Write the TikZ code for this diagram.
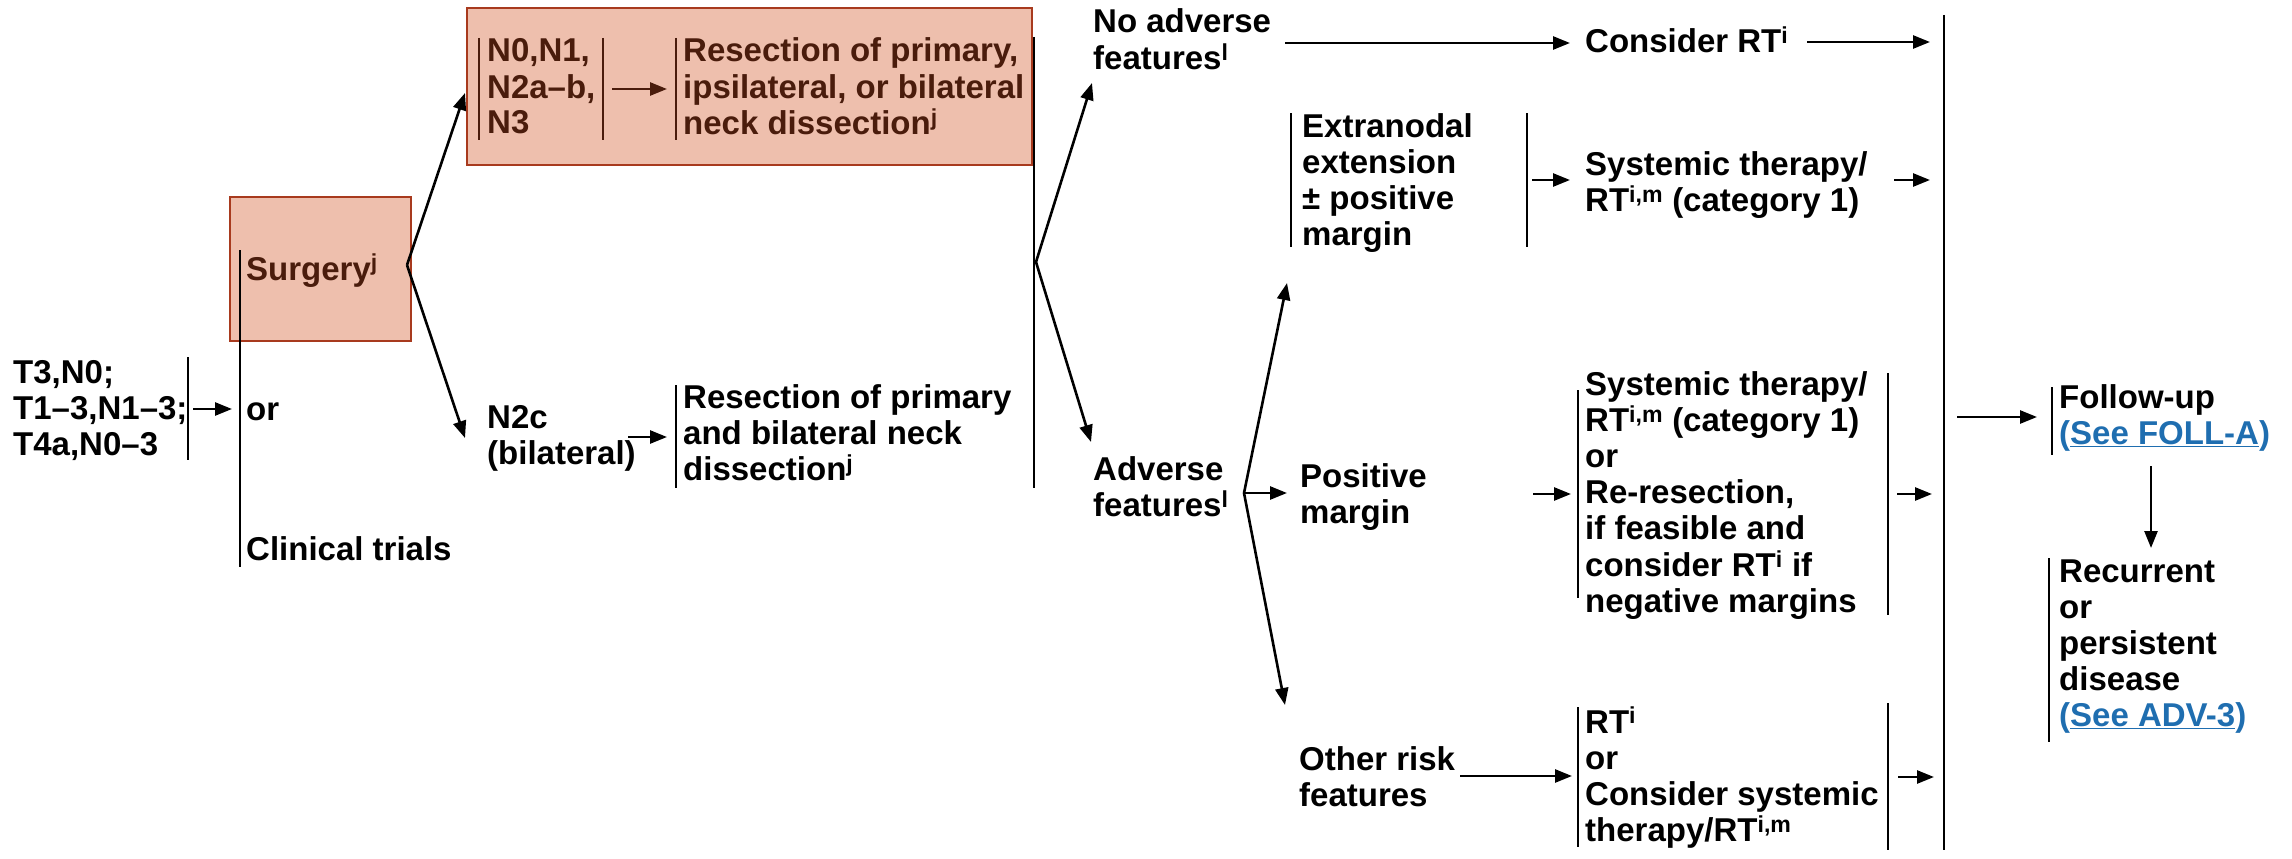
\documentclass[tikz,border=0pt]{standalone}
\usepackage{fontspec}
\setmainfont{Liberation Sans}
\usetikzlibrary{arrows.meta}
\definecolor{boxfill}{HTML}{EEBFAD}
\definecolor{boxline}{HTML}{A83A1E}
\definecolor{boxtext}{HTML}{4A1C0C}
\definecolor{linkblue}{HTML}{1F6EB0}
\newcommand\ml[1]{\begin{tabular}[t]{@{}l@{}}#1\end{tabular}}
\newcommand\spr[1]{\textsuperscript{#1}}
\newcommand\lnk[1]{\textcolor{linkblue}{(\underline{#1})}}
\begin{document}
\begin{tikzpicture}[x=1pt,y=-1pt,
  txt/.style={anchor=base west,inner sep=0pt,font=\bfseries\fontsize{33}{36}\selectfont},
  bar/.style={line width=2.8pt},
  arr/.style={line width=2.6pt,-{Triangle[length=17pt,width=13pt]}},
  hbox/.style={draw=boxline,fill=boxfill,line width=2.2pt,anchor=north west,inner sep=0pt}]
\useasboundingbox (0,0) rectangle (2292,859);

% ---------- highlighted boxes
\node[hbox,minimum width=181pt,minimum height=144pt] (surgbox) at (229,196) {};
\node[hbox,minimum width=565pt,minimum height=157pt] (topbox) at (466,7) {};

% ---------- named points (bar ends and connector ends)
\coordinate (b0t) at (188,357);  \coordinate (b0b) at (188,460);
\coordinate (b1t) at (240,250);  \coordinate (b1b) at (240,567);
\coordinate (a0s) at (193,409);  \coordinate (a0e) at (232,409);
\coordinate (sj)  at (407,265);
\coordinate (sup) at (465,93);   \coordinate (sdn) at (465,438);
\coordinate (tb1t) at (479,38);  \coordinate (tb1b) at (479,140);
\coordinate (tb2t) at (603,38);  \coordinate (tb2b) at (603,140);
\coordinate (tb3t) at (676,38);  \coordinate (tb3b) at (676,140);
\coordinate (ta0) at (612,89);   \coordinate (ta1) at (667,89);
\coordinate (na0) at (628,437);  \coordinate (na1) at (667,437);
\coordinate (nbt) at (676,385);  \coordinate (nbb) at (676,488);
\coordinate (b2t) at (1034,37);  \coordinate (b2b) at (1034,488);
\coordinate (j2)  at (1036,262);
\coordinate (noin) at (1092,83); \coordinate (advin) at (1091,442);
\coordinate (noout) at (1285,43); \coordinate (crin) at (1570,43);
\coordinate (crout) at (1807,42); \coordinate (rb1) at (1930,42);
\coordinate (rbt) at (1944,15);  \coordinate (rbb) at (1944,850);
\coordinate (eb1t) at (1291,113); \coordinate (eb1b) at (1291,247);
\coordinate (eb2t) at (1527,113); \coordinate (eb2b) at (1527,247);
\coordinate (ea0) at (1532,180); \coordinate (ea1) at (1570,180);
\coordinate (sa0) at (1894,180); \coordinate (rb2) at (1930,180);
\coordinate (j3)  at (1244,493);
\coordinate (exin) at (1287,283); \coordinate (pmin) at (1287,493); \coordinate (orin) at (1285,705);
\coordinate (pa0) at (1533,494); \coordinate (pa1) at (1571,494);
\coordinate (pb1t) at (1578,390); \coordinate (pb1b) at (1578,598);
\coordinate (pb2t) at (1888,373); \coordinate (pb2b) at (1888,615);
\coordinate (pa2) at (1897,494); \coordinate (rb3) at (1932,494);
\coordinate (oa0) at (1460,776); \coordinate (oa1) at (1572,776);
\coordinate (ob1t) at (1578,707); \coordinate (ob1b) at (1578,847);
\coordinate (ob2t) at (1888,703); \coordinate (ob2b) at (1888,850);
\coordinate (oa2) at (1898,777); \coordinate (rb4) at (1934,777);
\coordinate (fa0) at (1957,417); \coordinate (fa1) at (2037,417);
\coordinate (fbt) at (2052,387); \coordinate (fbb) at (2052,455);
\coordinate (da0) at (2151,466); \coordinate (da1) at (2151,548);
\coordinate (rcbt) at (2049,558); \coordinate (rcbb) at (2049,742);

% ---------- left part
\node[txt] (stage) at (13,383) {\ml{T3,N0;\\T1–3,N1–3;\\T4a,N0–3}};
\draw[bar] (b0t) -- (b0b);
\draw[arr] (a0s) -- (a0e);
\draw[bar] (b1t) -- (b1b);
\node[txt,text=boxtext] (surg) at (246,280) {Surgery\spr{j}};
\node[txt] (or1) at (246,420) {or};
\node[txt] (clin) at (246,560) {Clinical trials};
\draw[arr] (sj) -- (sup);
\draw[arr] (sj) -- (sdn);

% ---------- top box contents
\draw[bar,boxtext] (tb1t) -- (tb1b);
\node[txt,text=boxtext] (nlist) at (487,62) {\ml{N0,N1,\\N2a–b,\\N3}};
\draw[bar,boxtext] (tb2t) -- (tb2b);
\draw[arr,boxtext] (ta0) -- (ta1);
\draw[bar,boxtext] (tb3t) -- (tb3b);
\node[txt,text=boxtext] (res1) at (683,62) {\ml{Resection of primary,\\ipsilateral, or bilateral\\neck dissection\spr{j}}};

% ---------- N2c
\node[txt] (n2c) at (487,428) {\ml{N2c\\(bilateral)}};
\draw[arr] (na0) -- (na1);
\draw[bar] (nbt) -- (nbb);
\node[txt] (res2) at (683,408) {\ml{Resection of primary\\and bilateral neck\\dissection\spr{j}}};

% ---------- adverse features split
\draw[bar] (b2t) -- (b2b);
\draw[arr] (j2) -- (noin);
\draw[arr] (j2) -- (advin);
\node[txt] (noadv) at (1093,33) {\ml{No adverse\\features\spr{l}}};
\draw[arr] (noout) -- (crin);
\node[txt] (consrt) at (1585,53) {Consider RT\spr{i}};
\draw[arr] (crout) -- (rb1);
\draw[bar] (rbt) -- (rbb);

% extranodal
\draw[bar] (eb1t) -- (eb1b);
\node[txt] (extra) at (1302,137) {\ml{Extranodal\\extension\\± positive\\margin}};
\draw[bar] (eb2t) -- (eb2b);
\draw[arr] (ea0) -- (ea1);
\node[txt] (sys1) at (1585,175) {\ml{Systemic therapy/\\RT\spr{i,m} (category 1)}};
\draw[arr] (sa0) -- (rb2);

% adverse
\node[txt] (adv) at (1093,480) {\ml{Adverse\\features\spr{l}}};
\draw[arr] (j3) -- (exin);
\draw[arr] (j3) -- (pmin);
\draw[arr] (j3) -- (orin);

% positive margin
\node[txt] (pos) at (1300,487) {\ml{Positive\\margin}};
\draw[arr] (pa0) -- (pa1);
\draw[bar] (pb1t) -- (pb1b);
\node[txt] (sys2) at (1585,395) {\ml{Systemic therapy/\\RT\spr{i,m} (category 1)\\or\\Re-resection,\\if feasible and\\consider RT\spr{i} if\\negative margins}};
\draw[bar] (pb2t) -- (pb2b);
\draw[arr] (pa2) -- (rb3);

% other risk features
\node[txt] (oth) at (1299,770) {\ml{Other risk\\features}};
\draw[arr] (oa0) -- (oa1);
\draw[bar] (ob1t) -- (ob1b);
\node[txt] (rt) at (1585,733) {\ml{RT\spr{i}\\or\\Consider systemic\\therapy/RT\spr{i,m}}};
\draw[bar] (ob2t) -- (ob2b);
\draw[arr] (oa2) -- (rb4);

% follow-up
\draw[arr] (fa0) -- (fa1);
\draw[bar] (fbt) -- (fbb);
\node[txt] (foll) at (2059,408) {\ml{Follow-up\\\lnk{See FOLL-A}}};
\draw[arr] (da0) -- (da1);
\draw[bar] (rcbt) -- (rcbb);
\node[txt] (rec) at (2059,582) {\ml{Recurrent\\or\\persistent\\disease\\\lnk{See ADV-3}}};
\end{tikzpicture}
\end{document}
